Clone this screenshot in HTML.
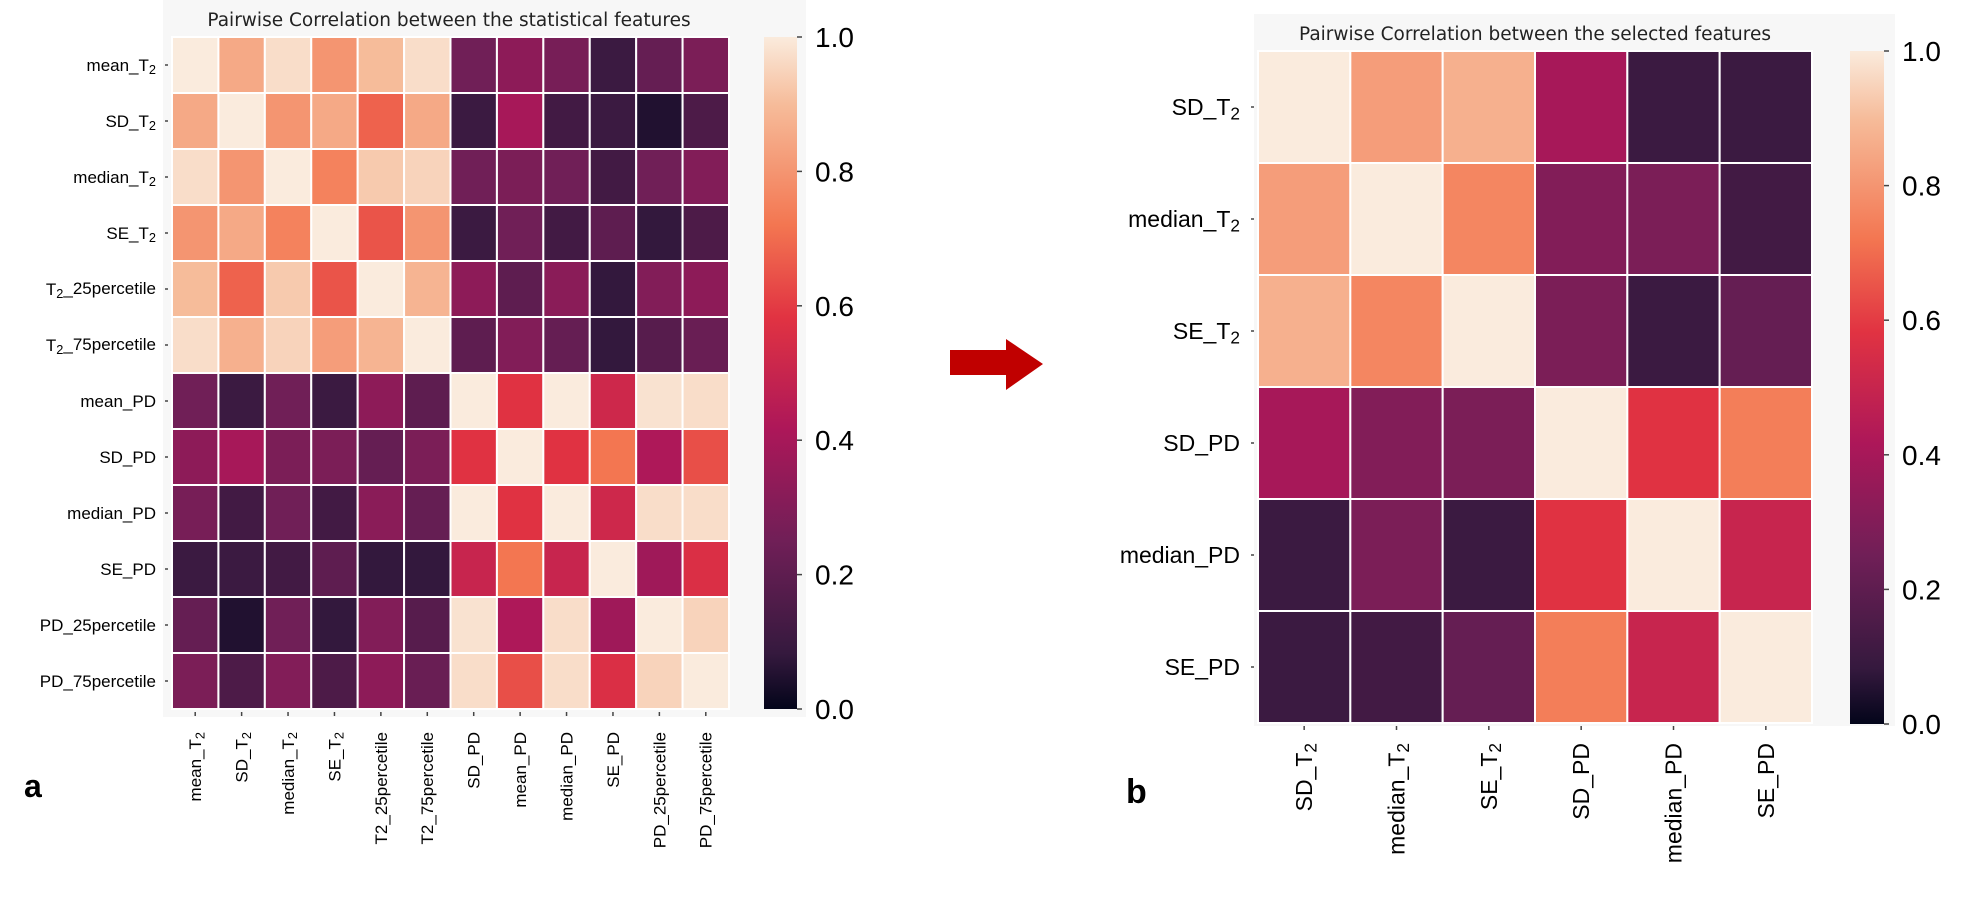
<!DOCTYPE html>
<html><head><meta charset="utf-8"><style>
body{margin:0;background:#fff;}
svg{display:block;}
text{font-family:"Liberation Sans",sans-serif;fill:#000;}
.title{font-family:"DejaVu Sans","Liberation Sans",sans-serif;fill:#222;}
</style></head><body>
<svg id="chart" width="1966" height="897" viewBox="0 0 1966 897" xmlns="http://www.w3.org/2000/svg">
<rect x="163" y="0" width="643" height="717" fill="#f7f7f7"/>
<rect x="1254" y="14" width="641" height="712" fill="#f7f7f7"/>
<text class="title" x="449" y="26" font-size="18.5" text-anchor="middle">Pairwise Correlation between the statistical features</text>
<text class="title" x="1535" y="40" font-size="18.5" text-anchor="middle">Pairwise Correlation between the selected features</text>
<text x="24" y="797" font-size="32" font-weight="bold">a</text>
<text x="1126" y="803" font-size="34" font-weight="bold">b</text>
<polygon points="950,350 1006,350 1006,339 1043,364 1006,390 1006,375 950,375" fill="#c00000"/>
<defs>
<linearGradient id="cbar" x1="0" y1="1" x2="0" y2="0">
<stop offset="0" stop-color="#03051a"/><stop offset="0.083" stop-color="#35193e"/><stop offset="0.25" stop-color="#701f57"/><stop offset="0.417" stop-color="#ad1759"/><stop offset="0.583" stop-color="#e13342"/><stop offset="0.72" stop-color="#f37651"/><stop offset="0.9" stop-color="#f6bc9a"/><stop offset="1" stop-color="#faebdd"/>
</linearGradient>
</defs>
<g id="ga"></g><g id="gb"></g>
</svg>
<script>
const labelsA = ["mean_T2","SD_T2","median_T2","SE_T2","T2_25percetile","T2_75percetile","mean_PD","SD_PD","median_PD","SE_PD","PD_25percetile","PD_75percetile"];
const xLabelsA = ["mean_T2","SD_T2","median_T2","SE_T2","T2_25percetile","T2_75percetile","SD_PD","mean_PD","median_PD","SE_PD","PD_25percetile","PD_75percetile"];
const valuesA = [
[1,.85,.97,.8,.9,.97,.25,.33,.27,.1,.22,.28],
[.85,1,.8,.85,.68,.85,.1,.4,.12,.1,.05,.15],
[.97,.8,1,.75,.93,.95,.25,.28,.25,.12,.25,.3],
[.8,.85,.75,1,.65,.8,.1,.25,.12,.2,.08,.15],
[.9,.68,.93,.65,1,.88,.33,.2,.32,.08,.3,.33],
[.97,.87,.95,.82,.88,1,.2,.3,.22,.08,.18,.23],
[.25,.1,.25,.1,.33,.2,1,.58,1,.52,.98,.97],
[.33,.4,.28,.28,.22,.28,.58,1,.58,.72,.42,.64],
[.27,.12,.25,.12,.32,.22,1,.58,1,.52,.97,.97],
[.1,.1,.12,.2,.08,.08,.5,.72,.5,1,.38,.56],
[.22,.05,.25,.08,.3,.18,.98,.42,.97,.38,1,.95],
[.28,.15,.3,.15,.33,.23,.97,.64,.97,.56,.95,1]];
const labelsB = ["SD_T2","median_T2","SE_T2","SD_PD","median_PD","SE_PD"];
const valuesB = [
[1,.82,.87,.4,.1,.1],
[.82,1,.76,.3,.28,.12],
[.87,.76,1,.28,.1,.22],
[.4,.3,.28,1,.58,.74],
[.1,.28,.1,.58,1,.5],
[.1,.12,.22,.74,.5,1]];
const cbarTicks = [0,0.2,0.4,0.6,0.8,1.0];

const stops=[[0,[3,5,26]],[.083,[53,25,62]],[.25,[112,31,87]],[.417,[173,23,89]],[.583,[225,51,66]],[.72,[243,118,81]],[.9,[246,188,154]],[1,[250,235,221]]];
function color(v){v=Math.max(0,Math.min(1,v));for(let i=1;i<stops.length;i++){if(v<=stops[i][0]){const a=stops[i-1],b=stops[i],t=(v-a[0])/(b[0]-a[0]);const c=a[1].map((x,k)=>Math.round(x+(b[1][k]-x)*t));return `rgb(${c})`;}}return 'rgb(250,235,221)';}
const NS="http://www.w3.org/2000/svg";
function mk(tag,attrs,parent){const e=document.createElementNS(NS,tag);for(const k in attrs)e.setAttribute(k,attrs[k]);parent.appendChild(e);return e;}
function setLabel(t,s,sub){
  const m=s.match(/^(.*?)T2(.*)$/);
  if(sub&&m){t.appendChild(document.createTextNode(m[1]+"T"));const ts=mk('tspan',{'font-size':'0.75em',dy:'0.25em'},t);ts.textContent="2";const t2=mk('tspan',{dy:'-0.25em'},t);t2.textContent=m[2];}
  else t.textContent=s;
}
function draw(g,cfg){
  const n=cfg.vals.length,cw=(cfg.x1-cfg.x0)/n,ch=(cfg.y1-cfg.y0)/n;
  const xs=i=>cfg.x0+i*cw, ys=i=>cfg.y0+i*ch;
  cfg.vals.forEach((row,r)=>row.forEach((v,c)=>{
    const el=mk('rect',{x:xs(c),y:ys(r),width:cw,height:ch,fill:color(v),stroke:'#fff','stroke-width':2},g);
    
    
  }));
  cfg.ylab.forEach((s,i)=>{
    const y=ys(i)+ch/2;
    const tk=mk('line',{x1:cfg.x0-7,x2:cfg.x0-4,y1:y,y2:y,stroke:'#444','stroke-width':1.5},g);
    
    
    const t=mk('text',{x:cfg.x0-cfg.ylOff,y:y+cfg.fs*0.35,'font-size':cfg.fs,'text-anchor':'end'},g);
    setLabel(t,s,true);
    
    
  });
  cfg.xlab.forEach((s,i)=>{
    const x=xs(i)+cw/2;
    const tk=mk('line',{x1:x,x2:x,y1:cfg.y1+3,y2:cfg.y1+7,stroke:'#444','stroke-width':1.5},g);
    
    
    const t=mk('text',{transform:`translate(${x+cfg.xfs*0.35},${cfg.xTop}) rotate(-90)`,'font-size':cfg.xfs,'text-anchor':'end'},g);
    setLabel(t,s,/T2$/.test(s));
    
    
  });
  const cb=mk('rect',{x:cfg.cx0,y:cfg.cy0,width:cfg.cx1-cfg.cx0,height:cfg.cy1-cfg.cy0,fill:'url(#cbar)'},g);
  
  
  const cy=v=>cfg.cy1-v*(cfg.cy1-cfg.cy0);
  cbarTicks.forEach(v=>{
    const tk=mk('line',{x1:cfg.cx1,x2:cfg.cx1+5,y1:cy(v),y2:cy(v),stroke:'#444','stroke-width':1.5},g);
    
    
    const t=mk('text',{x:cfg.cx1+18,y:cy(v)+10,'font-size':28},g);
    t.textContent=v.toFixed(1);
    
    
  });
}
draw(document.getElementById('ga'),{vals:valuesA,ylab:labelsA,xlab:xLabelsA,x0:172,x1:729,y0:37,y1:709,fs:17,ylOff:16,xfs:17,xTop:732,cx0:764,cx1:797,cy0:37,cy1:709});
draw(document.getElementById('gb'),{vals:valuesB,ylab:labelsB,xlab:labelsB,x0:1258,x1:1812,y0:51,y1:723,fs:23,ylOff:18,xfs:23,xTop:743,cx0:1850,cx1:1884,cy0:51,cy1:724});
</script>
</body></html>
